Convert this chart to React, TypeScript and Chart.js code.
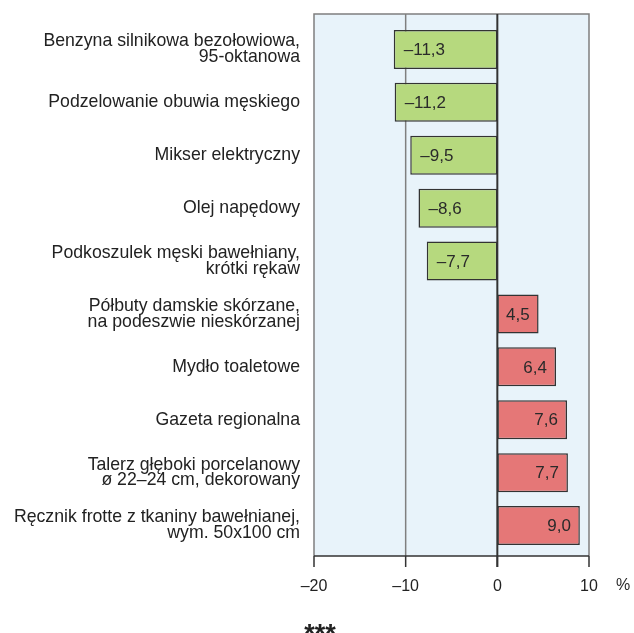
import React, { useEffect, useRef } from "react";
import { Chart, registerables } from "chart.js";

Chart.register(...registerables);

const categories: (string | string[])[] = [
  ["Benzyna silnikowa bezołowiowa,", "95-oktanowa"],
  "Podzelowanie obuwia męskiego",
  "Mikser elektryczny",
  "Olej napędowy",
  ["Podkoszulek męski bawełniany,", "krótki rękaw"],
  ["Półbuty damskie skórzane,", "na podeszwie nieskórzanej"],
  "Mydło toaletowe",
  "Gazeta regionalna",
  ["Talerz głęboki porcelanowy", "ø 22–24 cm, dekorowany"],
  ["Ręcznik frotte z tkaniny bawełnianej,", "wym. 50x100 cm"],
];

const values: number[] = [-11.3, -11.2, -9.5, -8.6, -7.7, 4.5, 6.4, 7.6, 7.7, 9.0];

const xMin = -20;
const xMax = 10;
const xStep = 10;
const unitLabel = "%";
const footnote = "***";

const GREEN = "#b6d97e";
const RED = "#e57777";
const BG = "#e8f3fa";
const DARK = "#333333";
const GRAY = "#7f7f7f";
const FONT = "'Liberation Sans', Arial, sans-serif";

const fmt = (v: number) => v.toFixed(1).replace(".", ",").replace("-", "–");

const framePlugin = {
  id: "framePlugin",
  beforeDatasetsDraw(chart: any) {
    const { ctx, chartArea } = chart;
    const x = chart.scales.x;
    const top = chartArea.top - 9;
    const bottom = chartArea.bottom + 4;
    const l = x.getPixelForValue(xMin);
    const r = x.getPixelForValue(xMax);
    ctx.save();
    ctx.fillStyle = BG;
    ctx.fillRect(l, top, r - l, bottom - top);
    ctx.strokeStyle = GRAY;
    ctx.lineWidth = 1.5;
    ctx.beginPath();
    ctx.moveTo(l, bottom);
    ctx.lineTo(l, top);
    ctx.lineTo(r, top);
    ctx.lineTo(r, bottom);
    for (let v = xMin + xStep; v < xMax; v += xStep) {
      if (v === 0) continue;
      const px = x.getPixelForValue(v);
      ctx.moveTo(px, top);
      ctx.lineTo(px, bottom);
    }
    ctx.stroke();
    ctx.restore();
  },
  afterDatasetsDraw(chart: any) {
    const { ctx, chartArea } = chart;
    const x = chart.scales.x;
    const top = chartArea.top - 9;
    const bottom = chartArea.bottom + 4;
    const l = x.getPixelForValue(xMin);
    const r = x.getPixelForValue(xMax);
    const z = x.getPixelForValue(0);
    ctx.save();
    // zero line
    ctx.strokeStyle = DARK;
    ctx.lineWidth = 2;
    ctx.beginPath();
    ctx.moveTo(z, top);
    ctx.lineTo(z, bottom + 11);
    ctx.stroke();
    // axis line and ticks
    ctx.lineWidth = 1.5;
    ctx.beginPath();
    ctx.moveTo(l, bottom);
    ctx.lineTo(r, bottom);
    for (let v = xMin; v <= xMax; v += xStep) {
      const px = x.getPixelForValue(v);
      ctx.moveTo(px, bottom);
      ctx.lineTo(px, bottom + 11);
    }
    ctx.stroke();
    // value labels
    const meta = chart.getDatasetMeta(0);
    ctx.fillStyle = "#2a2a2a";
    ctx.font = `17px ${FONT}`;
    ctx.textBaseline = "middle";
    meta.data.forEach((bar: any, i: number) => {
      const v = values[i];
      const txt = fmt(v);
      if (v < 0) {
        ctx.textAlign = "left";
        ctx.fillText(txt, bar.x + 10, bar.y + 1);
      } else {
        ctx.textAlign = "right";
        ctx.fillText(txt, bar.x - 9, bar.y + 1);
      }
    });
    // unit
    ctx.font = `16px ${FONT}`;
    ctx.textAlign = "center";
    ctx.fillText(unitLabel, r + 34, bottom + 30);
    // footnote
    ctx.font = `bold 27px ${FONT}`;
    ctx.textBaseline = "alphabetic";
    ctx.fillStyle = "#222";
    ctx.fillText(footnote, 320, 643);
    ctx.restore();
  },
};

export default function App() {
  const ref = useRef<HTMLCanvasElement | null>(null);
  useEffect(() => {
    if (!ref.current) return;
    const chart = new Chart(ref.current, {
      type: "bar",
      data: {
        labels: categories,
        datasets: [
          {
            data: values,
            backgroundColor: values.map((v) => (v < 0 ? GREEN : RED)),
            borderColor: DARK,
            borderWidth: 1.5,
            borderSkipped: false,
            categoryPercentage: 1,
            barPercentage: 0.737,
          },
        ],
      },
      options: {
        indexAxis: "y",
        responsive: false,
        animation: false,
        layout: { padding: { top: 23, right: 45, left: 0, bottom: 0 } },
        plugins: { legend: { display: false }, tooltip: { enabled: false } },
        scales: {
          x: {
            min: xMin,
            max: xMax,
            grid: { display: false, drawTicks: false },
            border: { display: false },
            afterFit: (s: any) => {
              s.height = 81;
              s.paddingLeft = 0;
              s.paddingRight = 0;
            },
            ticks: {
              stepSize: xStep,
              padding: 25,
              color: "#222",
              font: { family: FONT, size: 16 },
              callback: (v: any) => String(v).replace("-", "–"),
            },
          },
          y: {
            grid: { display: false, drawTicks: false },
            border: { display: false },
            afterFit: (s: any) => {
              s.width = 314;
              s.paddingTop = 0;
              s.paddingBottom = 0;
            },
            ticks: {
              padding: 14,
              color: "#222",
              font: { family: FONT, size: 17.7, lineHeight: 0.9 },
            },
          },
        },
      },
      plugins: [framePlugin],
    });
    return () => chart.destroy();
  }, []);
  return (
    <div style={{ position: "absolute", left: 0, top: 0, width: 634, height: 633 }}>
      <canvas ref={ref} width={634} height={633} style={{ display: "block" }} />
    </div>
  );
}
